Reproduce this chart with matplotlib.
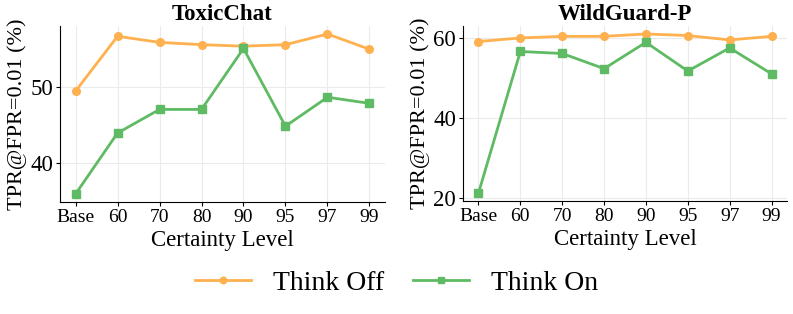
import matplotlib
matplotlib.use("Agg")
import matplotlib.pyplot as plt

plt.rcParams['font.family'] = ['Liberation Serif', 'DejaVu Serif']
plt.rcParams['mathtext.fontset'] = 'stix'

levels = ['Base', '60', '70', '80', '90', '95', '97', '99']

# ToxicChat
toxic_off = [49.4, 56.6, 55.8, 55.5, 55.3, 55.5, 56.9, 54.9]
toxic_on = [35.9, 43.9, 47.0, 47.0, 55.0, 44.8, 48.6, 47.8]

# WildGuard-P
wild_off = [59.2, 60.1, 60.5, 60.5, 61.1, 60.7, 59.6, 60.5]
wild_on = [21.2, 56.7, 56.2, 52.4, 59.0, 51.8, 57.6, 51.1]

titles = ['ToxicChat', 'WildGuard-P']
c_off = '#FFB04F'
c_on = '#5FBB63'

fig = plt.figure(figsize=(7.93, 3.14), dpi=100)
ax1 = fig.add_axes([60 / 793, 1 - 202 / 314, 325 / 793, 176 / 314])
ax2 = fig.add_axes([463 / 793, 1 - 201 / 314, 324 / 793, 175 / 314])

x = list(range(len(levels)))
for ax, off, on, title in [(ax1, toxic_off, toxic_on, titles[0]),
                           (ax2, wild_off, wild_on, titles[1])]:
    ax.plot(x, off, color=c_off, marker='o', lw=2, ms=5.5, label='Think Off')
    ax.plot(x, on, color=c_on, marker='s', lw=2, ms=5.5, label='Think On')
    ax.set_title(title, fontsize=16.5, fontweight='bold', pad=4)
    ax.set_xticks(x)
    ax.set_xticklabels(levels, fontsize=14)
    ax.tick_params(axis='y', labelsize=16.5)
    ax.tick_params(length=3, pad=2)
    ax.set_xlim(-0.37, 7.37)
    ax.grid(True, color='#EBEBEB', lw=0.8)
    ax.set_axisbelow(True)
    for s in ['top', 'right']:
        ax.spines[s].set_visible(False)
    ax.set_xlabel('Certainty Level', fontsize=16.5, labelpad=3)
    ax.set_ylabel('TPR@FPR=0.01 (%)', fontsize=16, labelpad=2)

ax1.set_yticks([40, 50])
ax2.set_yticks([20, 40, 60])

handles, labels = ax1.get_legend_handles_labels()
fig.legend(handles, labels, loc='center', bbox_to_anchor=(0.5, 1 - 283 / 314),
           ncol=2, frameon=False, fontsize=20, handlelength=2.0,
           columnspacing=1.05, handletextpad=0.8, markerscale=0.85)

fig.savefig('out.png', dpi=100)
